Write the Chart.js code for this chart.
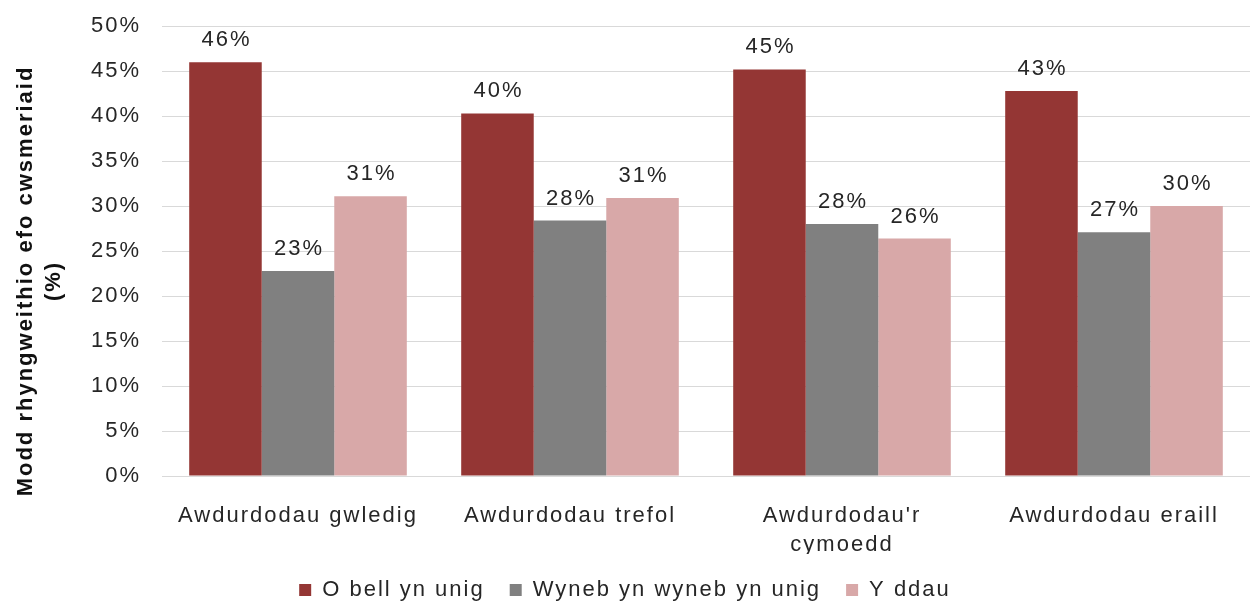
<!DOCTYPE html>
<html>
<head>
<meta charset="utf-8">
<script src="https://cdn.jsdelivr.net/npm/chart.js@4.4.1/dist/chart.umd.min.js"></script>
<style>
  html, body { margin: 0; padding: 0; background: #fff; }
  #wrap { width: 1250px; height: 605px; }
</style>
</head>
<body>
<div id="wrap"><canvas id="myChart" width="1250" height="605"></canvas></div>
<script>
const categories = ['Awdurdodau gwledig', 'Awdurdodau trefol', ["Awdurdodau'r", 'cymoedd'], 'Awdurdodau eraill'];
const remoteOnly = [46.0, 40.3, 45.2, 42.8];
const faceOnly = [22.8, 28.4, 28.0, 27.1];
const both = [31.1, 30.9, 26.4, 30.0];
const seriesNames = ['O bell yn unig', 'Wyneb yn wyneb yn unig', 'Y ddau'];
const yTicks = [0, 5, 10, 15, 20, 25, 30, 35, 40, 45, 50];
const yTitle = ['Modd rhyngweithio efo cwsmeriaid', '(%)'];

const font = '"Liberation Sans", Arial, sans-serif';
const textColor = '#262626';

// the reference text is a bit wide, so spread the letters a little
const spacing = {
  id: 'spacing',
  beforeUpdate(chart) { chart.ctx.letterSpacing = '2px'; },
  beforeLayout(chart) { chart.ctx.letterSpacing = '2px'; },
  beforeDraw(chart) { chart.ctx.letterSpacing = '2px'; }
};

// rounded value above each bar
const valueLabels = {
  id: 'valueLabels',
  afterDatasetsDraw(chart) {
    const ctx = chart.ctx;
    ctx.save();
    ctx.font = '22px ' + font;
    ctx.fillStyle = textColor;
    ctx.textAlign = 'center';
    ctx.textBaseline = 'alphabetic';
    chart.data.datasets.forEach((ds, i) => {
      chart.getDatasetMeta(i).data.forEach((bar, j) => {
        ctx.fillText(Math.round(ds.data[j]) + '%', bar.x + 1, bar.y - 16);
      });
    });
    ctx.restore();
  }
};

// rotated two-line y axis title
const axisTitle = {
  id: 'axisTitle',
  afterDraw(chart) {
    const ctx = chart.ctx;
    ctx.save();
    ctx.translate(26, 281);
    ctx.rotate(-Math.PI / 2);
    ctx.font = 'bold 22px ' + font;
    ctx.fillStyle = '#111';
    ctx.textAlign = 'center';
    ctx.textBaseline = 'middle';
    yTitle.forEach((line, i) => ctx.fillText(line, 0, i * 28));
    ctx.restore();
  }
};

new Chart(document.getElementById('myChart').getContext('2d'), {
  type: 'bar',
  data: {
    labels: categories,
    datasets: [
      { label: seriesNames[0], data: remoteOnly, backgroundColor: '#943634' },
      { label: seriesNames[1], data: faceOnly, backgroundColor: '#808080' },
      { label: seriesNames[2], data: both, backgroundColor: '#D8A8A8' }
    ]
  },
  options: {
    responsive: false,
    animation: false,
    layout: { padding: { top: 10, right: 0, left: 0, bottom: 0 } },
    datasets: { bar: { categoryPercentage: 0.8, barPercentage: 1.0 } },
    scales: {
      y: {
        min: 0,
        max: 50,
        afterBuildTicks: (axis) => { axis.ticks = yTicks.map(v => ({ value: v })); },
        afterFit: (s) => { s.width = 162; },
        border: { display: false },
        grid: { color: '#d9d9d9', tickLength: 8, tickColor: 'rgba(0,0,0,0)' },
        ticks: {
          padding: 13,
          color: textColor,
          font: { family: font, size: 22 },
          callback: (v) => v + '%'
        }
      },
      x: {
        afterFit: (s) => { s.height = 78; },
        border: { display: false },
        grid: { display: false },
        ticks: {
          padding: 18,
          color: textColor,
          font: { family: font, size: 22, lineHeight: 1.3 },
          maxRotation: 0
        }
      }
    },
    plugins: {
      legend: {
        position: 'bottom',
        maxHeight: 51,
        labels: {
          boxWidth: 12,
          boxHeight: 12,
          padding: 25,
          color: textColor,
          font: { family: font, size: 22 }
        }
      },
      tooltip: { enabled: false }
    }
  },
  plugins: [spacing, valueLabels, axisTitle]
});
</script>
</body>
</html>
